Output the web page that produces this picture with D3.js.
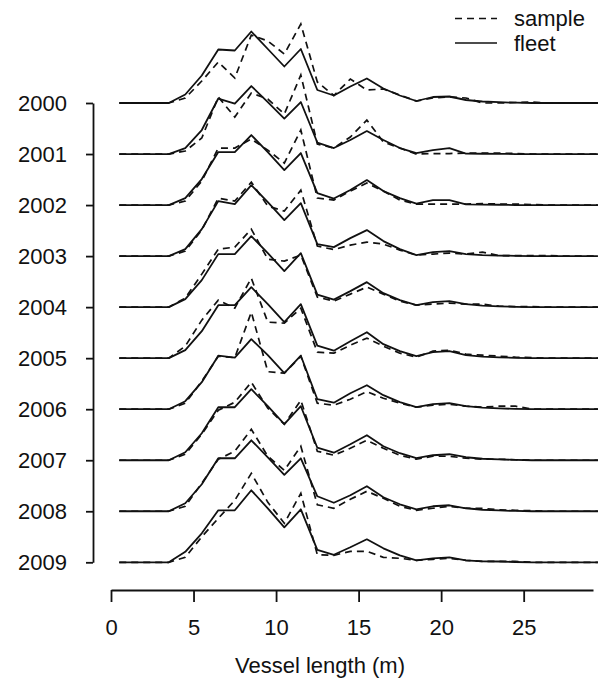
<!DOCTYPE html>
<html>
<head>
<meta charset="utf-8">
<script src="https://cdn.jsdelivr.net/npm/d3@7"></script>
<style>
  body { margin: 0; background: #fff; }
  svg text { font-family: "Liberation Sans", Arial, sans-serif; fill: #111; }
</style>
</head>
<body>
<svg id="chart" width="600" height="682"></svg>
<script>
// vessel length classes (class mid points, m)
var lengthMid = [0.5,1.5,2.5,3.5,4.5,5.5,6.5,7.5,8.5,9.5,10.5,11.5,12.5,13.5,14.5,15.5,16.5,17.5,18.5,19.5,20.5,21.5,22.5,23.5,24.5,25.5,26.5,27.5,28.5,29.5];
var years = [2000,2001,2002,2003,2004,2005,2006,2007,2008,2009];
var xTicks = [0,5,10,15,20,25];

// share of vessels (%) in each length class
var fleet2000  = [0,0,0,0,1.7,5.5,10.7,10.5,14.3,10.8,7.3,10.8,2.6,1.5,3.3,4.9,2.9,1.5,0.4,1.2,1.3,0.6,0.3,0.16,0.06,0,0,0,0,0];
var sample2000 = [0,0,0,0,1.0,4.4,8.2,5.0,13.6,12.4,9.8,15.8,4.2,1.5,4.8,2.6,2.8,1.6,0.4,1.0,1.2,1.0,0,0,0.1,0.2,0,0,0,0];
var fleet2001  = [0,0,0,0,1.2,4.8,11.1,10.1,13.6,10.4,7.1,10.4,2.3,1.2,2.8,4.6,2.8,1.2,0.2,0.8,1.2,0.1,0.06,0.04,0,0,0,0,0,0];
var sample2001 = [0,0,0,0,0.6,3.2,11.4,7.4,12.2,11.0,8.0,15.8,2.0,1.2,3.4,6.8,2.4,1.2,0,0.1,0.1,0.2,0.2,0.2,0.1,0,0,0,0,0];
var fleet2002  = [0,0,0,0,1.4,5.2,10.6,10.6,14.0,10.6,7.0,10.4,2.4,1.3,3.0,5.0,2.8,1.4,0.3,1.0,1.0,0.14,0.1,0.06,0,0,0,0,0,0];
var sample2002 = [0,0,0,0,0.8,4.8,11.4,11.4,13.2,11.0,8.4,15.0,1.4,1.0,2.8,4.4,2.8,1.0,0.2,0.2,0.2,0.2,0.3,0.2,0.2,0.1,0,0,0,0];
var fleet2003  = [0,0,0,0,1.4,5.4,11.0,10.4,14.2,10.8,7.2,10.6,2.4,1.8,3.6,5.2,3.0,1.4,0.2,0.8,1.0,0.4,0.2,0.1,0.06,0,0,0,0,0];
var sample2003 = [0,0,0,0,1.0,5.2,11.6,11.0,14.8,10.0,9.0,13.2,2.0,1.3,2.2,2.8,2.4,1.2,0.2,0.4,0.6,0.4,0.8,0.1,0.1,0.1,0.1,0,0,0];
var fleet2004  = [0,0,0,0,1.6,5.4,10.6,10.6,14.2,10.8,7.2,10.8,2.5,1.5,3.2,5.0,2.8,1.4,0.4,1.0,1.2,0.6,0.3,0.16,0.06,0,0,0,0,0];
var sample2004 = [0,0,0,0,1.8,6.6,11.6,12.0,15.6,9.6,9.2,10.4,2.0,1.2,2.6,4.0,2.6,1.2,0.4,0.6,0.8,0.6,0.6,0.2,0.1,0.1,0,0,0,0];
var fleet2005  = [0,0,0,0,1.6,5.4,10.6,10.6,14.2,10.8,7.2,10.8,2.5,1.5,3.4,5.2,2.8,1.4,0.4,1.2,1.4,0.6,0.3,0.16,0.06,0,0,0,0,0];
var sample2005 = [0,0,0,0,2.4,7.6,11.6,10.0,16.0,7.2,7.0,10.0,1.2,1.0,2.6,4.0,2.4,1.0,0.2,1.4,1.6,0.8,0.6,0.4,0.2,0.1,0,0,0,0];
var fleet2006  = [0,0,0,0,1.6,5.4,10.7,10.3,14.0,10.8,7.2,10.7,2.0,1.3,3.2,4.8,2.8,1.4,0.4,1.0,1.2,0.6,0.3,0.16,0.06,0,0,0,0,0];
var sample2006 = [0,0,0,0,1.2,5.6,10.6,10.3,19.4,7.5,7.2,10.6,1.2,0.8,2.0,3.5,2.2,1.2,0.4,0.8,1.0,0.6,0.4,0.6,0.6,0,0,0,0,0];
var fleet2007  = [0,0,0,0,1.6,5.4,10.6,10.6,14.2,10.8,7.2,10.8,2.5,1.5,3.2,5.0,2.8,1.4,0.4,1.0,1.2,0.6,0.3,0.16,0.06,0,0,0,0,0];
var sample2007 = [0,0,0,0,1.2,5.2,10.0,11.6,15.6,10.4,7.2,12.0,1.8,1.0,2.4,4.0,2.4,1.0,0.2,0.8,0.8,0.4,0.2,0.2,0.1,0,0,0,0,0];
var fleet2008  = [0,0,0,0,1.6,5.4,10.6,10.6,14.2,10.8,7.3,10.6,3.0,1.7,3.2,5.0,2.8,1.4,0.4,1.0,1.2,0.6,0.3,0.16,0.06,0,0,0,0,0];
var sample2008 = [0,0,0,0,1.0,5.6,10.4,12.0,16.4,11.0,8.2,13.0,1.3,0.6,2.4,4.0,2.6,1.0,0.2,0.6,1.0,0.6,0.6,0.3,0.2,0.1,0,0,0,0];
var fleet2009  = [0,0,0,0,2.1,5.8,10.4,10.4,14.4,10.8,7.0,10.6,2.5,1.5,3.0,4.6,2.8,1.4,0.4,0.8,1.0,0.4,0.2,0.16,0.06,0,0,0,0,0];
var sample2009 = [0,0,0,0,1.0,5.1,8.8,12.4,17.8,12.0,7.8,13.8,1.5,1.4,2.2,2.2,1.0,0.8,0.4,0.6,0.8,0.4,0.2,0.2,0.2,0,0,0,0,0];

var fleetByYear  = [fleet2000,fleet2001,fleet2002,fleet2003,fleet2004,fleet2005,fleet2006,fleet2007,fleet2008,fleet2009];
var sampleByYear = [sample2000,sample2001,sample2002,sample2003,sample2004,sample2005,sample2006,sample2007,sample2008,sample2009];

var svg = d3.select("#chart");

var x = d3.scaleLinear().domain([0, 29.2]).range([111, 593]);
var yYear = d3.scalePoint().domain(years).range([103, 562.3]);
// height of a curve above its year baseline
var h = d3.scaleLinear().domain([0, 1]).range([0, 5]);

function rowLine(year) {
    return d3.line()
        .x(function (d, i) { return x(lengthMid[i]); })
        .y(function (d) { return yYear(year) - h(d); });
}

var rows = svg.append("g");
years.forEach(function (yr, k) {
    rows.append("path")
        .attr("d", rowLine(yr)(fleetByYear[k]))
        .attr("fill", "none")
        .attr("stroke", "#111")
        .attr("stroke-width", 1.8)
        .attr("stroke-linejoin", "round");
    rows.append("path")
        .attr("d", rowLine(yr)(sampleByYear[k]))
        .attr("fill", "none")
        .attr("stroke", "#111")
        .attr("stroke-width", 1.7)
        .attr("stroke-dasharray", "7,5");
});

// year axis
var yAxis = svg.append("g")
    .attr("transform", "translate(93,0)")
    .call(d3.axisLeft(yYear).tickSize(7).tickSizeOuter(0).tickPadding(19));
yAxis.selectAll("text").style("font-size", "22px");

// length axis
var xAxis = svg.append("g")
    .attr("transform", "translate(0,590)")
    .call(d3.axisBottom(x).tickValues(xTicks).tickSize(12).tickSizeOuter(0).tickPadding(17));
xAxis.selectAll("text").style("font-size", "22px");

svg.selectAll(".domain, .tick line").attr("stroke", "#111").attr("stroke-width", 1.8);

svg.append("text")
    .attr("x", 320)
    .attr("y", 673)
    .attr("text-anchor", "middle")
    .style("font-size", "22px")
    .text("Vessel length (m)");

// legend
var legend = svg.append("g");
var items = [["sample", "7,5", 18.5], ["fleet", null, 43]];
items.forEach(function (it) {
    legend.append("line")
        .attr("x1", 455).attr("x2", 497)
        .attr("y1", it[2]).attr("y2", it[2])
        .attr("stroke", "#111")
        .attr("stroke-width", 1.7)
        .attr("stroke-dasharray", it[1]);
    legend.append("text")
        .attr("x", 514)
        .attr("y", it[2])
        .attr("dy", "0.35em")
        .style("font-size", "22px")
        .text(it[0]);
});
</script>
</body>
</html>
